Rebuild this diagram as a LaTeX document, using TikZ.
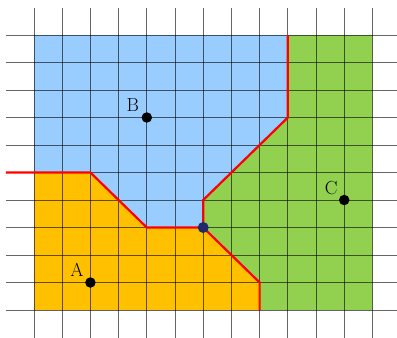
\documentclass[tikz,border=0pt]{standalone}
\definecolor{regionA}{HTML}{FFC000}
\definecolor{regionB}{HTML}{99CCFF}
\definecolor{regionC}{HTML}{92D050}
\definecolor{junction}{HTML}{1F2A6B}
\begin{document}
\begin{tikzpicture}[x=28.2bp,y=27.5bp,
  gridline/.style={black,opacity=0.6,line width=0.9bp},
  border/.style={red,line width=2.2bp,line join=miter},
  site/.style={circle,fill=black,inner sep=0pt,minimum size=10.5bp},
  jdot/.style={circle,fill=junction,inner sep=0pt,minimum size=11bp},
  sitelabel/.style={font=\fontsize{19}{22}\selectfont,inner sep=0pt}]
\useasboundingbox (-1.2057,-0.9818) rectangle (12.872,11.273);
% boundary vertices
\coordinate (L) at (-1,5);
\coordinate (P1) at (2,5);
\coordinate (P2) at (4,3);
\coordinate (V) at (6,3);
\coordinate (Q1) at (6,4);
\coordinate (Q2) at (9,7);
\coordinate (Q3) at (9,10);
\coordinate (R1) at (8,1);
\coordinate (R2) at (8,0);
% regions
\fill[regionA] (0,0) -- (R2) -- (R1) -- (V) -- (P2) -- (P1) -- (0,5) -- cycle;
\fill[regionB] (0,5) -- (P1) -- (P2) -- (V) -- (Q1) -- (Q2) -- (Q3) -- (0,10) -- cycle;
\fill[regionC] (R2) -- (12,0) -- (12,10) -- (Q3) -- (Q2) -- (Q1) -- (V) -- (R1) -- cycle;
% grid
\foreach \i in {0,...,12} \draw[gridline] (\i,-1) -- (\i,10.98);
\foreach \j in {0,...,10} \draw[gridline] (-1,\j) -- (13,\j);
% borders
\draw[border] (L) -- (P1) -- (P2) -- (V);
\draw[border] (V) -- (Q1) -- (Q2) -- (Q3);
\draw[border] (V) -- (R1) -- (R2);
% sites
\node[site] (A) at (2,1) {};
\node[site] (B) at (4,7) {};
\node[site] (C) at (11,4) {};
\node[jdot] (J) at (V) {};
\node[sitelabel] (labA) at ([shift={(-13.5bp,13bp)}]A.center) {A};
\node[sitelabel] (labB) at ([shift={(-14bp,12bp)}]B.center) {B};
\node[sitelabel] (labC) at ([shift={(-13bp,11.5bp)}]C.center) {C};
\end{tikzpicture}
\end{document}
